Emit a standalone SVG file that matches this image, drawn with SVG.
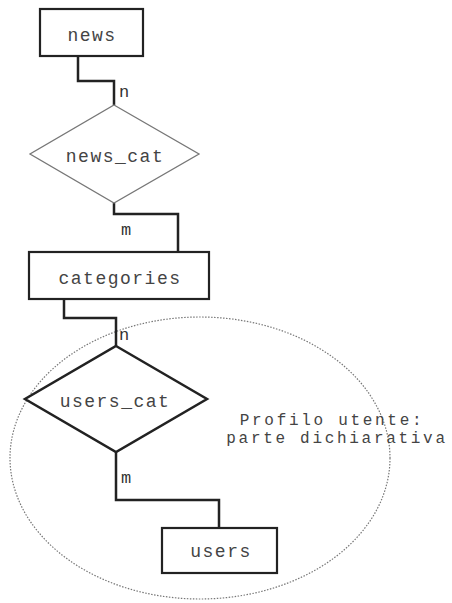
<svg xmlns="http://www.w3.org/2000/svg" width="452" height="603" viewBox="0 0 452 603">
<style>
.box{fill:#fff;stroke:#222;stroke-width:2.2}
.t{font-family:"Liberation Mono","DejaVu Sans Mono",monospace;font-size:18px;letter-spacing:1.5px;fill:#444;text-anchor:middle}
.p{font-family:"Liberation Mono","DejaVu Sans Mono",monospace;font-size:16px;letter-spacing:2.7px;fill:#444;text-anchor:middle}
.lbl{font-family:"Liberation Mono","DejaVu Sans Mono",monospace;font-size:17px;fill:#333}
.conn{fill:none;stroke:#222;stroke-width:2.5}
</style>
<rect width="452" height="603" fill="#fff"/>
<g id="profilo">
<ellipse cx="200" cy="458" rx="190" ry="141" fill="none" stroke="#777" stroke-width="1.2" stroke-dasharray="1.5 1.5"/>
<text class="p" x="332" y="425">Profilo utente:</text>
<text class="p" x="337" y="443">parte dichiarativa</text>
</g>
<g id="connectors">
<polyline class="conn" points="78,56 78,81 114,81 114,105"/>
<polyline class="conn" points="114,203 114,214 178,214 178,252"/>
<polyline class="conn" points="64,299 64,318 116,318 116,346"/>
<polyline class="conn" points="116,452 116,500 219,500 219,528"/>
<text class="lbl" x="119" y="97">n</text>
<text class="lbl" x="121" y="235">m</text>
<text class="lbl" x="119" y="340">n</text>
<text class="lbl" x="121" y="483">m</text>
</g>
<g id="news">
<rect class="box" x="40" y="9" width="103" height="47"/>
<text class="t" x="92" y="41">news</text>
</g>
<g id="news_cat">
<polygon points="114,105 199,154 114,203 30,154" fill="#fff" stroke="#777" stroke-width="1.3"/>
<text class="t" x="115" y="162">news_cat</text>
</g>
<g id="categories">
<rect class="box" x="29" y="252" width="180" height="47"/>
<text class="t" x="120" y="284">categories</text>
</g>
<g id="users_cat">
<polygon points="116,346 207,399 116,452 25,399" fill="#fff" stroke="#222" stroke-width="2.5"/>
<text class="t" x="115" y="407">users_cat</text>
</g>
<g id="users">
<rect class="box" x="162" y="528" width="115" height="45"/>
<text class="t" x="221" y="557">users</text>
</g>
</svg>
